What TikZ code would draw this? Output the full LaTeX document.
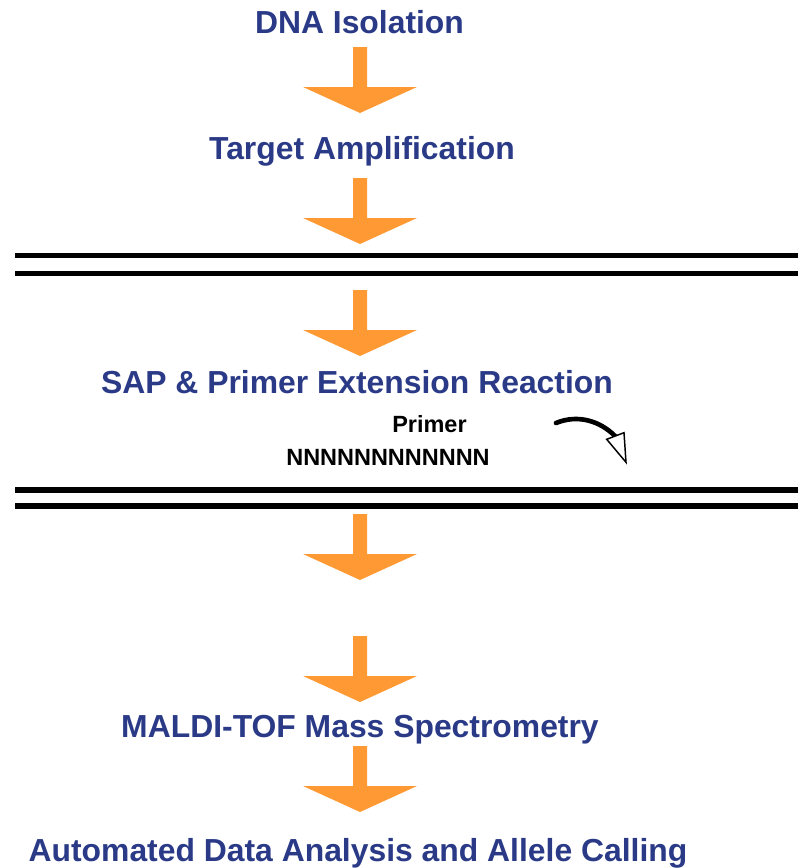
\documentclass[tikz,border=0pt]{standalone}
\usepackage{fontspec}
\setmainfont{Liberation Sans}
\definecolor{stepblue}{RGB}{42,58,135}
\definecolor{arroworange}{RGB}{255,153,51}
\tikzset{
  steptext/.style={anchor=base, text=stepblue, font=\bfseries\fontsize{23.9}{28}\selectfont, inner sep=0pt},
  smalltext/.style={anchor=base, text=black, font=\bfseries\fontsize{17.6}{20}\selectfont, inner sep=0pt},
  sepline/.style={line width=4pt},
  blockarrow/.pic={\fill[arroworange] (-7,0) -- (7,0) -- (7,40) -- (57,40) -- (0,66) -- (-57,40) -- (-7,40) -- cycle;}
}
\begin{document}
\begin{tikzpicture}[x=0.75pt,y=-0.75pt]
\useasboundingbox (0,0) rectangle (798,868);
% step texts
\node[steptext] (dna) at (359.5,33) {DNA Isolation};
\node[steptext] (target) at (362,159) {Target Amplification};
\node[steptext] (sap) at (357,393) {SAP \& Primer Extension Reaction};
\node[steptext] (maldi) at (360,737) {MALDI-TOF Mass Spectrometry};
\node[steptext] (auto) at (358,861) {Automated Data Analysis and Allele Calling};
% primer labels
\node[smalltext] (primer) at (429.5,432) {Primer};
\node[smalltext] (nseq) at (388,465) {NNNNNNNNNNNN};
% block arrows
\pic at (360,47) {blockarrow};
\pic at (360,178) {blockarrow};
\pic at (360,290) {blockarrow};
\pic at (360,514) {blockarrow};
\pic at (360,636) {blockarrow};
\pic at (360,746) {blockarrow};
% separator lines
\draw[sepline] (15,255.7) -- (798,255.7);
\draw[sepline] (15,273.2) -- (798,273.2);
\draw[sepline] (15,490) -- (798,490);
\draw[sepline] (15,506) -- (798,506);
% curved arrow
\coordinate (cs) at (556,423);
\coordinate (ce) at (615,436);
\draw[line width=3.5pt, line cap=round] (cs) .. controls (578,414) and (600,421) .. (ce);
\draw[line width=1.1pt, fill=white, line join=miter] (606.7,439.3) -- (624,432.7) -- (626,462.3) -- cycle;
\end{tikzpicture}
\end{document}
